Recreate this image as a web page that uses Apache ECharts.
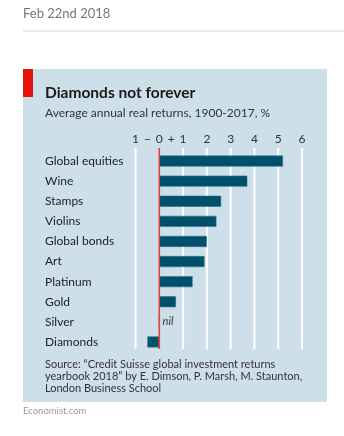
<!DOCTYPE html>
<html>
<head>
<meta charset="utf-8">
<script src="https://cdn.jsdelivr.net/npm/echarts@6/dist/echarts.min.js"></script>
<style>
  html, body { margin: 0; padding: 0; background: #fff; }
  #chart { width: 344px; height: 436px; }
</style>
</head>
<body>
<div id="chart"></div>
<script>
// Average annual real returns by asset class, 1900-2017 (%)
const categories = ['Global equities', 'Wine', 'Stamps', 'Violins', 'Global bonds', 'Art', 'Platinum', 'Gold', 'Silver', 'Diamonds'];
const returns = [5.2, 3.7, 2.6, 2.4, 2.0, 1.9, 1.4, 0.7, 0.0, -0.5];
const tickLabels = { '-1': '1', '-0.5': '\u2212', '0': '0', '0.5': '+', '1': '1', '2': '2', '3': '3', '4': '4', '5': '5', '6': '6' };
const gridTicks = [-1, 1, 2, 3, 4, 5, 6];
const zeroTick = 0;

const FONT = 'Lato, "Open Sans", sans-serif';
const chart = echarts.init(document.getElementById('chart'), null, { renderer: 'canvas' });

// vertical rule at value v, spanning the full height of the rule grid
function rule(v, color, width, z) {
  return {
    type: 'line', xAxisIndex: 1, yAxisIndex: 1, data: [[v, 0], [v, 1]],
    symbol: 'none', silent: true, z: z, clip: false, lineStyle: { color: color, width: width, opacity: 1 }
  };
}

chart.setOption({
  animation: false,
  backgroundColor: '#ffffff',
  textStyle: { fontFamily: FONT },
  graphic: [
    { type: 'text', left: 23, top: 7, style: { text: 'Feb 22nd 2018', fill: '#777777', font: '13px ' + FONT } },
    { type: 'rect', shape: { x: 23, y: 30.5, width: 321, height: 1 }, style: { fill: '#d4d4d4' } },
    { type: 'rect', shape: { x: 23, y: 69, width: 10, height: 28 }, style: { fill: '#e3120b' } },
    { type: 'text', x: 45, y: 93, style: { text: 'Diamonds not forever', fill: '#1a1a1a', font: 'bold 15.5px ' + FONT, verticalAlign: 'middle' } },
    { type: 'text', x: 45, y: 113.5, style: { text: 'Average annual real returns, 1900-2017, %', fill: '#333333', font: '12px ' + FONT, verticalAlign: 'middle' } },
    { type: 'text', x: 45, y: 364.5, style: { text: 'Source: \u201cCredit Suisse global investment returns', fill: '#333333', font: '11px ' + FONT, verticalAlign: 'middle' } },
    { type: 'text', x: 45, y: 376.5, style: { text: 'yearbook 2018\u201d by E. Dimson, P. Marsh, M. Staunton,', fill: '#333333', font: '11px ' + FONT, verticalAlign: 'middle' } },
    { type: 'text', x: 45, y: 388.5, style: { text: 'London Business School', fill: '#333333', font: '11px ' + FONT, verticalAlign: 'middle' } },
    { type: 'text', x: 23, y: 411, style: { text: 'Economist.com', fill: '#9a9a9a', font: '9.5px ' + FONT, verticalAlign: 'middle' } }
  ],
  grid: [
    { left: 135.5, right: 42, top: 151, bottom: 84 },
    { left: 135.5, right: 42, top: 148, bottom: 87 },
    // panel background behind the whole chart
    { left: 23, top: 69, width: 304, height: 333, show: true, backgroundColor: '#cddfe8', borderWidth: 0, z: -1 }
  ],
  xAxis: [
    {
      gridIndex: 0, type: 'value', min: -1, max: 6, interval: 1,
      axisLine: { show: false }, axisTick: { show: false }, axisLabel: { show: false }, splitLine: { show: false }
    },
    {
      gridIndex: 1, type: 'value', min: -1, max: 6, interval: 0.5, position: 'top',
      axisLine: { show: false }, axisTick: { show: false }, splitLine: { show: false },
      axisLabel: {
        show: true, margin: 3, color: '#333333', fontSize: 12, fontFamily: FONT,
        formatter: v => tickLabels[String(v)] || ''
      }
    },
    { gridIndex: 2, type: 'value', show: false }
  ],
  yAxis: [
    {
      gridIndex: 0, type: 'category', data: categories, inverse: true,
      axisLine: { show: false }, axisTick: { show: false }, splitLine: { show: false },
      axisLabel: { align: 'left', margin: 90.5, color: '#222222', fontSize: 12, fontFamily: FONT }
    },
    { gridIndex: 1, type: 'value', min: 0, max: 1, show: false },
    { gridIndex: 2, type: 'value', show: false }
  ],
  series: [
    ...gridTicks.map(v => rule(v, '#ffffff', 2, 1)),
    {
      type: 'bar', xAxisIndex: 0, yAxisIndex: 0, data: returns, barWidth: 11, z: 3,
      itemStyle: { color: '#00506b', borderColor: '#2b7089', borderWidth: 0.6 },
      label: {
        show: true, position: 'right', distance: 3,
        color: '#333333', fontSize: 11, fontStyle: 'italic', fontFamily: FONT,
        formatter: p => (p.value === 0 ? 'nil' : '')
      }
    },
    rule(zeroTick, '#ec3f35', 1.6, 5)
  ]
});
</script>
</body>
</html>
